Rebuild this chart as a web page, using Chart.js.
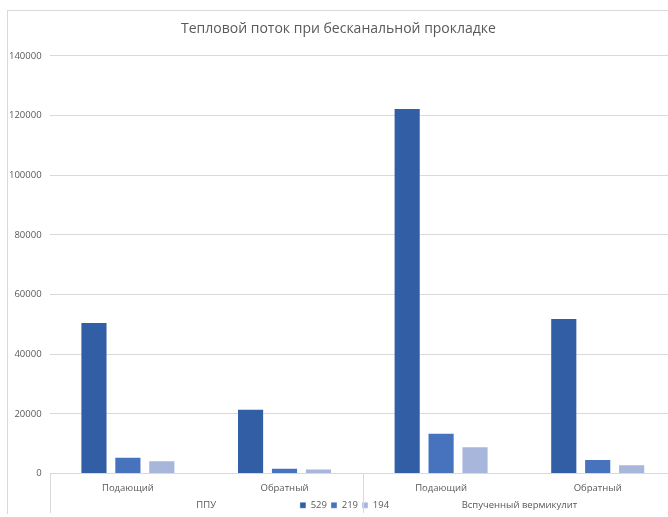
<!DOCTYPE html>
<html lang="ru">
<head>
<meta charset="utf-8">
<title>Тепловой поток при бесканальной прокладке</title>
<script src="https://cdn.jsdelivr.net/npm/chart.js@4/dist/chart.umd.min.js"></script>
<style>
  html, body {
    margin: 0;
    padding: 0;
    background: #fff;
    overflow: hidden;
  }
  #wrap {
    position: relative;
    width: 668px;
    height: 517px;
    overflow: hidden;
  }
  #frame {
    position: absolute;
    left: 7px;
    top: 10px;
    width: 700px;
    height: 503px;
    border-left: 1px solid #d9d9d9;
    border-top: 1px solid #d9d9d9;
  }
  #heatChart {
    position: absolute;
    left: 0;
    top: 0;
  }
</style>
</head>
<body>
<div id="wrap">
  <div id="frame"></div>
  <canvas id="heatChart" width="680" height="517"></canvas>
</div>

<script>
/* ================= DATA ================= */

const categories = ["Подающий", "Обратный", "Подающий", "Обратный"];
const groups = ["ППУ", "Вспученный вермикулит"];
const seriesNames = ["529", "219", "194"];

const flow529 = [50800, 21700, 122500, 52100];
const flow219 = [5600, 1900, 13700, 4900];
const flow194 = [4400, 1700, 9100, 3100];

const yTicks = [0, 20000, 40000, 60000, 80000, 100000, 120000, 140000];

const colors = ["#325ea6", "#4672be", "#a9b6dc"];

/* ================= HELPERS ================= */

const FONT = "'Open Sans', 'Noto Sans', sans-serif";
const TEXT = "#595959";
const GRID = "#d9d9d9";

// second level of the category axis: group names + separators
const groupAxis = {
  id: "groupAxis",
  afterLayout(chart) {
    // legend sits a little right of centre
    if (chart.legend) {
      chart.legend.left += 6;
      chart.legend.right += 6;
    }
  },
  afterDraw(chart) {
    const ctx = chart.ctx;
    const area = chart.chartArea;
    const x = chart.scales.x;
    const per = categories.length / groups.length;
    const bottom = chart.height - 4;

    ctx.save();
    ctx.strokeStyle = GRID;
    ctx.lineWidth = 1;

    for (let g = 0; g <= groups.length; g++) {
      let px;
      if (g === 0) px = area.left;
      else if (g === groups.length) px = area.right;
      else px = (x.getPixelForValue(g * per - 1) + x.getPixelForValue(g * per)) / 2;
      px = Math.round(px) + 0.5;
      ctx.beginPath();
      ctx.moveTo(px, area.bottom);
      ctx.lineTo(px, bottom);
      ctx.stroke();
    }

    ctx.fillStyle = TEXT;
    ctx.font = "9.5px " + FONT;
    ctx.textAlign = "center";
    ctx.textBaseline = "middle";
    groups.forEach((name, g) => {
      const a = x.getPixelForValue(g * per);
      const b = x.getPixelForValue(g * per + per - 1);
      ctx.fillText(name, (a + b) / 2, area.bottom + 32);
    });
    ctx.restore();
  },
};

/* ================= CHART ================= */

const datasets = [flow529, flow219, flow194].map((values, i) => ({
  label: seriesNames[i],
  data: values,
  backgroundColor: colors[i],
  borderColor: "rgba(255,255,255,0.35)",
  borderWidth: 1,
  categoryPercentage: 0.65,
  barPercentage: 0.8,
}));

new Chart(document.getElementById("heatChart"), {
  type: "bar",
  data: {
    labels: categories,
    datasets: datasets,
  },
  options: {
    responsive: false,
    maintainAspectRatio: false,
    animation: false,
    layout: {
      padding: { left: 1, right: 4, top: 0, bottom: -3 },
    },
    plugins: {
      title: {
        display: true,
        text: "Тепловой поток при бесканальной прокладке",
        color: TEXT,
        font: { family: FONT, size: 14, weight: "normal" },
        padding: { top: 21, bottom: 18 },
      },
      legend: {
        position: "bottom",
        labels: {
          color: TEXT,
          font: { family: FONT, size: 9.5 },
          boxWidth: 6,
          boxHeight: 6,
          padding: 4,
        },
      },
      tooltip: { enabled: false },
    },
    scales: {
      x: {
        grid: { display: false },
        border: { display: false },
        afterFit(axis) {
          axis.height = 23;
        },
        ticks: {
          color: TEXT,
          font: { family: FONT, size: 9.5 },
          padding: 1,
          maxRotation: 0,
        },
      },
      y: {
        min: 0,
        max: 140000,
        afterBuildTicks(axis) {
          axis.ticks = yTicks.map((v) => ({ value: v }));
        },
        grid: { color: GRID, drawTicks: false },
        border: { display: false },
        ticks: {
          color: TEXT,
          font: { family: FONT, size: 9.5 },
          padding: 8,
          callback: (v) => String(v),
        },
      },
    },
  },
  plugins: [groupAxis],
});
</script>
</body>
</html>
